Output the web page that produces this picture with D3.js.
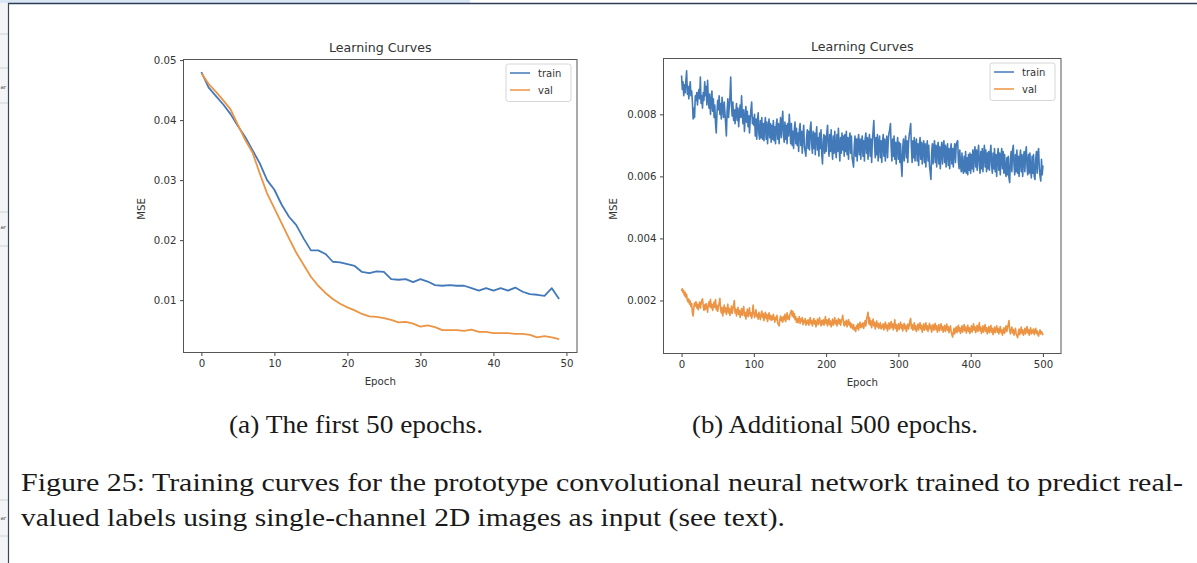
<!DOCTYPE html>
<html>
<head>
<meta charset="utf-8">
<script src="https://cdn.jsdelivr.net/npm/d3@7"></script>
<style>
  html, body { margin: 0; padding: 0; background: #fff; }
  svg { display: block; }
</style>
</head>
<body>
<div id="page"></div>
<script>
// ---- data ----
// panel (a): first 50 epochs, MSE
const epochsA = d3.range(0, 50);
const trainA = [0.0480, 0.0454, 0.0440, 0.0426, 0.0410, 0.0390, 0.0372, 0.0350, 0.0328, 0.0300,
    0.0284, 0.0259, 0.0239, 0.0225, 0.0203, 0.0183, 0.0183, 0.0177, 0.0164, 0.0163,
    0.0160, 0.0157, 0.0147, 0.0145, 0.0148, 0.0147, 0.0135, 0.0134, 0.0135, 0.0130,
    0.0135, 0.0131, 0.0125, 0.0124, 0.0125, 0.0124, 0.0124, 0.0120, 0.0116, 0.0120,
    0.0116, 0.0120, 0.0116, 0.0121, 0.0114, 0.0110, 0.0109, 0.0107, 0.0120, 0.0102];
const valA = [0.0478, 0.0460, 0.0447, 0.0433, 0.0418, 0.0392, 0.0367, 0.0346, 0.0311, 0.0278,
    0.0253, 0.0228, 0.0203, 0.0179, 0.0159, 0.0139, 0.0124, 0.0112, 0.0102, 0.0094,
    0.0088, 0.0083, 0.0077, 0.0073, 0.0072, 0.0070, 0.0067, 0.0063, 0.0064, 0.0061,
    0.0056, 0.0058, 0.0055, 0.0050, 0.0050, 0.0050, 0.0049, 0.0051, 0.0047, 0.0047,
    0.0045, 0.0045, 0.0045, 0.0044, 0.0044, 0.0042, 0.0038, 0.0040, 0.0038, 0.0035];

// panel (b): additional 500 epochs, MSE x 1e5
const epochsB = d3.range(0, 501);
const trainB = [
    925, 880, 905, 860, 895, 870, 910, 940, 865, 890, 850, 880, 905, 860, 875, 840, 785, 820, 790, 860, 845, 870, 830, 865, 880,
    850, 920, 835, 860, 820, 870, 845, 905, 860, 890, 830, 910, 850, 820, 865, 800, 840, 875, 810, 850, 790, 830, 770, 740, 805,
    845, 815, 860, 800, 835, 785, 855, 820, 790, 840, 805, 770, 730, 810, 850, 790, 825, 860, 920, 830, 795, 840, 780, 815, 770,
    805, 835, 780, 820, 760, 800, 830, 790, 860, 800, 770, 815, 745, 790, 825, 775, 810, 760, 795, 740, 785, 815, 840, 770, 790,
    765, 800, 730, 785, 720, 780, 805, 735, 720, 780, 725, 790, 720, 770, 715, 765, 790, 720, 775, 705, 755, 785, 725, 770, 710,
    765, 720, 780, 715, 760, 705, 765, 785, 720, 770, 705, 755, 790, 725, 770, 810, 735, 710, 775, 720, 765, 705, 770, 730, 800,
    760, 705, 770, 700, 745, 690, 750, 775, 705, 755, 700, 740, 680, 750, 770, 700, 745, 675, 735, 765, 695, 680, 665, 725, 750,
    690, 745, 685, 755, 775, 705, 675, 745, 690, 740, 670, 730, 760, 685, 725, 665, 740, 690, 750, 670, 640, 715, 735, 675, 730,
    680, 740, 765, 700, 665, 735, 680, 750, 690, 655, 730, 675, 745, 690, 660, 735, 680, 755, 695, 650, 725, 675, 740, 685, 730,
    665, 735, 680, 745, 670, 725, 655, 715, 740, 675, 730, 660, 645, 630, 700, 730, 665, 720, 650, 715, 735, 670, 720, 655, 710,
    730, 665, 715, 650, 720, 740, 675, 725, 655, 710, 735, 665, 720, 645, 715, 745, 780, 705, 660, 725, 670, 735, 650, 710, 730,
    660, 715, 645, 710, 735, 665, 720, 650, 705, 730, 660, 715, 740, 750, 770, 695, 650, 720, 665, 730, 655, 710, 640, 700, 725,
    655, 710, 645, 705, 635, 600, 690, 720, 650, 705, 730, 660, 715, 645, 705, 735, 750, 770, 695, 645, 715, 660, 725, 650, 705,
    720, 650, 705, 635, 700, 725, 655, 710, 640, 695, 715, 645, 705, 630, 690, 715, 650, 700, 635, 615, 590, 675, 705, 640, 695,
    715, 645, 700, 630, 690, 710, 640, 695, 625, 685, 710, 640, 695, 715, 645, 700, 630, 685, 705, 635, 690, 625, 680, 705, 640,
    690, 630, 685, 705, 645, 700, 710, 715, 650, 625, 685, 635, 615, 675, 625, 610, 665, 615, 680, 610, 660, 605, 670, 620, 675,
    610, 670, 625, 685, 615, 675, 695, 630, 685, 620, 675, 700, 635, 610, 680, 625, 690, 615, 670, 700, 630, 685, 615, 675, 625,
    680, 620, 675, 700, 635, 610, 675, 625, 690, 615, 670, 600, 665, 690, 620, 675, 605, 665, 690, 625, 680, 610, 670, 615, 600,
    660, 605, 665, 595, 580, 655, 680, 615, 685, 700, 635, 605, 670, 615, 685, 610, 665, 600, 660, 685, 615, 670, 600, 655, 680,
    615, 675, 695, 630, 605, 670, 610, 675, 620, 595, 665, 610, 670, 600, 590, 655, 680, 610, 675, 690, 625, 600, 585, 655, 605,
    635];
const valB = [
    230, 238, 225, 232, 215, 226, 210, 220, 200, 195, 205, 188, 198, 180, 190, 160, 150, 178, 192, 182, 196, 176, 188, 170, 185,
    195, 175, 190, 200, 205, 180, 168, 186, 172, 190, 178, 162, 185, 196, 180, 204, 176, 188, 168, 182, 195, 178, 203, 170, 184,
    165, 180, 192, 207, 172, 160, 178, 150, 168, 185, 162, 176, 155, 170, 188, 160, 174, 152, 166, 182, 158, 172, 186, 200, 160,
    172, 150, 165, 178, 155, 168, 145, 160, 174, 152, 166, 180, 150, 162, 140, 158, 172, 148, 163, 176, 150, 160, 142, 158, 185,
    160, 145, 158, 170, 148, 155, 140, 162, 150, 138, 156, 166, 145, 158, 135, 150, 162, 142, 155, 132, 148, 160, 140, 152, 136,
    150, 138, 155, 142, 130, 146, 138, 152, 128, 122, 118, 140, 150, 135, 145, 130, 148, 138, 155, 132, 145, 160, 140, 150, 138,
    155, 162, 168, 150, 165, 145, 158, 138, 148, 130, 142, 128, 138, 148, 126, 140, 132, 145, 122, 136, 128, 142, 120, 134, 126,
    138, 120, 132, 145, 125, 136, 118, 130, 142, 124, 135, 115, 128, 140, 122, 133, 145, 126, 118, 135, 124, 138, 120, 130, 148,
    125, 138, 118, 130, 142, 122, 134, 115, 128, 140, 120, 132, 145, 124, 136, 118, 130, 142, 125, 138, 120, 135, 140, 152, 128,
    118, 132, 122, 136, 115, 128, 138, 120, 130, 112, 125, 118, 108, 122, 105, 112, 100, 118, 110, 125, 105, 120, 130, 112, 124,
    115, 128, 110, 122, 135, 118, 140, 150, 162, 125, 145, 120, 135, 112, 128, 140, 118, 130, 108, 122, 134, 115, 126, 110, 120,
    128, 108, 120, 112, 125, 105, 118, 130, 110, 122, 102, 115, 128, 108, 120, 132, 112, 125, 105, 118, 138, 110, 122, 100, 115,
    125, 106, 118, 130, 110, 122, 102, 115, 126, 108, 120, 100, 112, 124, 108, 118, 135, 142, 110, 122, 104, 116, 128, 106, 118,
    100, 112, 124, 105, 118, 128, 108, 120, 98, 112, 125, 104, 116, 128, 106, 118, 100, 114, 126, 108, 120, 98, 110, 122, 104,
    115, 126, 106, 118, 98, 110, 122, 102, 114, 125, 105, 116, 98, 110, 120, 100, 112, 124, 104, 115, 96, 108, 118, 100, 90,
    82, 98, 110, 92, 104, 115, 96, 108, 120, 100, 112, 94, 106, 118, 98, 110, 122, 102, 114, 95, 108, 120, 100, 112, 94,
    106, 118, 98, 110, 125, 104, 115, 96, 108, 120, 100, 112, 128, 102, 114, 94, 106, 118, 98, 110, 122, 100, 112, 92, 104,
    116, 96, 108, 120, 98, 110, 90, 102, 114, 96, 108, 118, 98, 110, 92, 104, 116, 96, 106, 88, 100, 112, 94, 105, 118,
    100, 112, 122, 135, 105, 92, 104, 114, 95, 106, 88, 100, 110, 92, 86, 80, 96, 108, 90, 102, 114, 94, 105, 88, 98,
    110, 92, 104, 116, 95, 106, 88, 100, 112, 92, 104, 96, 108, 90, 100, 110, 94, 102, 90, 85, 98, 105, 92, 100, 95,
    88];
const unitB = 1e-5;

const ticksAx = [0, 10, 20, 30, 40, 50];
const ticksAy = [0.01, 0.02, 0.03, 0.04, 0.05];
const ticksBx = [0, 100, 200, 300, 400, 500];
const ticksBy = [0.002, 0.004, 0.006, 0.008];

const seriesNames = ["train", "val"];
const seriesColors = ["#4279b8", "#ec9443"];

const captionA = "(a) The first 50 epochs.";
const captionB = "(b) Additional 500 epochs.";
const captionLines = [
    "Figure 25: Training curves for the prototype convolutional neural network trained to predict real-",
    "valued labels using single-channel 2D images as input (see text)."
];

// ---- drawing ----
const W = 1197, H = 563;
const svg = d3.select("#page").append("svg")
    .attr("width", W)
    .attr("height", H);

// window chrome around the document
svg.append("rect").attr("x", 0).attr("y", 0).attr("width", 470).attr("height", 3).attr("fill", "#d9e6f3");
svg.append("rect").attr("x", 0).attr("y", 3).attr("width", 8).attr("height", H).attr("fill", "#f3f4f6");
[34, 68, 103, 212, 246, 500, 536].forEach(function (y) {
    svg.append("line").attr("x1", 0).attr("x2", 8).attr("y1", y).attr("y2", y)
        .attr("stroke", "#cfd3d8").attr("stroke-width", 1);
});
[89, 229, 520].forEach(function (y) {
    svg.append("text").attr("x", 0.5).attr("y", y).text("ar")
        .style("font-family", "DejaVu Sans").style("font-size", "5.5px").attr("fill", "#555");
});
svg.append("line").attr("x1", 8).attr("x2", W).attr("y1", 3.5).attr("y2", 3.5)
    .attr("stroke", "#2d3c58").attr("stroke-width", 1.6);
svg.append("line").attr("x1", 8.5).attr("x2", 8.5).attr("y1", 3).attr("y2", H)
    .attr("stroke", "#3a4658").attr("stroke-width", 1.2);

const drawPanel = function (opts) {
    const g = svg.append("g");
    const x = d3.scaleLinear().domain(opts.xDomain).range([opts.left, opts.right]);
    const y = d3.scaleLinear().domain(opts.yDomain).range([opts.bottom, opts.top]);

    g.append("text")
        .attr("x", (opts.left + opts.right) / 2)
        .attr("y", opts.top - 8)
        .attr("text-anchor", "middle")
        .style("font-family", "DejaVu Sans")
        .style("font-size", "12.6px")
        .attr("fill", "#333")
        .text("Learning Curves");

    const line = d3.line()
        .x(function (d) { return x(d[0]); })
        .y(function (d) { return y(d[1]); });

    opts.series.forEach(function (s, i) {
        g.append("path")
            .datum(opts.epochs.map(function (e, k) { return [e, s[k]]; }))
            .attr("fill", "none")
            .attr("stroke", seriesColors[i])
            .attr("stroke-width", opts.lineWidth)
            .attr("stroke-linejoin", "round")
            .attr("d", line);
    });

    const xAxis = g.append("g")
        .attr("transform", "translate(0," + opts.bottom + ")")
        .call(d3.axisBottom(x).tickValues(opts.xTicks).tickSize(3.5).tickPadding(3.5)
            .tickFormat(d3.format("d")));
    const yAxis = g.append("g")
        .attr("transform", "translate(" + opts.left + ",0)")
        .call(d3.axisLeft(y).tickValues(opts.yTicks).tickSize(3.5).tickPadding(3.5)
            .tickFormat(d3.format(opts.yFormat)));
    [xAxis, yAxis].forEach(function (a) {
        a.select(".domain").remove();
        a.selectAll("line").attr("stroke", "#444");
        a.selectAll("text")
            .style("font-family", "DejaVu Sans")
            .style("font-size", "10.2px")
            .attr("fill", "#333");
    });

    g.append("rect")
        .attr("x", opts.left).attr("y", opts.top)
        .attr("width", opts.right - opts.left).attr("height", opts.bottom - opts.top)
        .attr("fill", "none").attr("stroke", "#555").attr("stroke-width", 1);

    g.append("text")
        .attr("x", (opts.left + opts.right) / 2)
        .attr("y", opts.bottom + 32)
        .attr("text-anchor", "middle")
        .style("font-family", "DejaVu Sans").style("font-size", "10.2px")
        .attr("fill", "#333")
        .text("Epoch");
    g.append("text")
        .attr("transform", "translate(" + opts.yLabelX + "," + ((opts.top + opts.bottom) / 2 + 3) + ") rotate(-90)")
        .attr("text-anchor", "middle")
        .style("font-family", "DejaVu Sans").style("font-size", "10.2px")
        .attr("fill", "#333")
        .text("MSE");

    // legend
    const lg = g.append("g").attr("transform", "translate(" + (opts.right - 71) + "," + (opts.top + 4.5) + ")");
    lg.append("rect")
        .attr("width", 65).attr("height", 37.5).attr("rx", 2.5)
        .attr("fill", "#fff").attr("fill-opacity", 0.8)
        .attr("stroke", "#d6d6d6").attr("stroke-width", 1);
    seriesNames.forEach(function (name, i) {
        const yy = 9 + i * 17;
        lg.append("line")
            .attr("x1", 4).attr("x2", 24).attr("y1", yy).attr("y2", yy)
            .attr("stroke", seriesColors[i]).attr("stroke-width", 1.5);
        lg.append("text")
            .attr("x", 32).attr("y", yy + 3.6)
            .style("font-family", "DejaVu Sans").style("font-size", "10px")
            .attr("fill", "#333")
            .text(name);
    });
};

drawPanel({
    left: 183.5, right: 577, top: 59.5, bottom: 352.5,
    xDomain: [-2.45, 51.45], yDomain: [0.00128, 0.0501],
    xTicks: ticksAx, yTicks: ticksAy, yFormat: ".2f", yLabelX: 145,
    epochs: epochsA, series: [trainA, valA], lineWidth: 1.8
});

drawPanel({
    left: 663.5, right: 1061, top: 58.5, bottom: 353.5,
    xDomain: [-25, 525], yDomain: [0.00029, 0.0098],
    xTicks: ticksBx, yTicks: ticksBy, yFormat: ".3f", yLabelX: 617,
    epochs: epochsB,
    series: [trainB.map(function (v) { return v * unitB; }), valB.map(function (v) { return v * unitB; })],
    lineWidth: 1.6
});

// captions
const serif = "'Liberation Serif', 'Times New Roman', Times, serif";
[[captionA, 229, 254], [captionB, 692, 286]].forEach(function (c) {
    svg.append("text")
        .attr("x", c[1]).attr("y", 433)
        .attr("textLength", c[2]).attr("lengthAdjust", "spacingAndGlyphs")
        .style("font-family", serif).style("font-size", "25px")
        .attr("fill", "#1a1a1a")
        .text(c[0]);
});
svg.append("text")
    .attr("x", 21).attr("y", 491)
    .attr("textLength", 1162).attr("lengthAdjust", "spacingAndGlyphs")
    .style("font-family", serif).style("font-size", "25px")
    .attr("fill", "#1a1a1a")
    .text(captionLines[0]);
svg.append("text")
    .attr("x", 21).attr("y", 526)
    .attr("textLength", 764).attr("lengthAdjust", "spacingAndGlyphs")
    .style("font-family", serif).style("font-size", "25px")
    .attr("fill", "#1a1a1a")
    .text(captionLines[1]);
</script>
</body>
</html>
